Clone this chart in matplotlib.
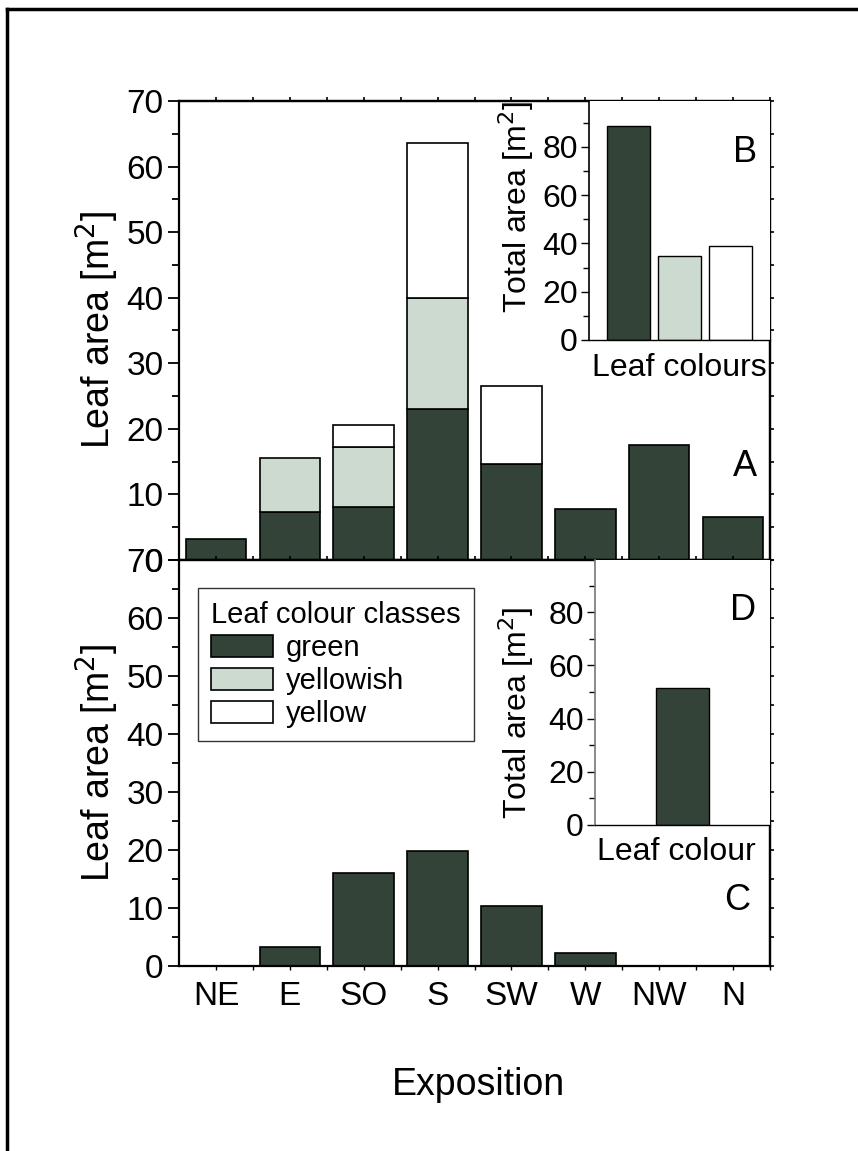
import matplotlib
matplotlib.use("Agg")
import matplotlib.pyplot as plt
from matplotlib.patches import Patch
from matplotlib.lines import Line2D
from matplotlib.ticker import MultipleLocator, FixedLocator

plt.rcParams['font.family'] = ['Liberation Sans', 'DejaVu Sans']

# Leaf area per exposition (m^2), stacked by colour class
expositions = ["NE", "E", "SO", "S", "SW", "W", "NW", "N"]
green_a = [3.2, 7.3, 8.1, 23.0, 14.6, 7.8, 17.5, 6.6]
yellowish_a = [0.0, 8.3, 9.1, 17.0, 0.0, 0.0, 0.0, 0.0]
yellow_a = [0.0, 0.0, 3.4, 23.6, 11.9, 0.0, 0.0, 0.0]

# Second crown: green leaves only
green_c = [0.0, 3.3, 16.0, 19.8, 10.3, 2.2, 0.0, 0.0]

# Totals per colour class
classes_b = ["green", "yellowish", "yellow"]
totals_b = [88.5, 34.6, 39.1]
totals_d = [51.6]

class_labels = ["green", "yellowish", "yellow"]
GREEN = "#334338"
YELLOWISH = "#ccdacf"
YELLOW = "#ffffff"
colors = [GREEN, YELLOWISH, YELLOW]

W, H = 858, 1151
fig = plt.figure(figsize=(W / 100, H / 100), dpi=100)


def frac(x0, y0, x1, y1):
    return [x0 / W, 1 - y1 / H, (x1 - x0) / W, (y1 - y0) / H]


def ftext(px, py, s, **kw):
    return fig.text(px / W, 1 - py / H, s, ha="center", va="center", **kw)


TICK_FS = 24
INSET_TICK_FS = 23
LABEL_FS = 27
INSET_FS = 23
LETTER_FS = 26
LEGEND_FS = 21
LW_SPINE = 1.6

axA = fig.add_axes(frac(179, 101, 770, 560))
axC = fig.add_axes(frac(179, 560, 770, 966))
axB = fig.add_axes(frac(589, 101, 770, 340))
axD = fig.add_axes(frac(595, 560, 770, 825))

x = list(range(len(expositions)))
half = [i + 0.5 for i in x]
bw = 0.82

# Panel A: stacked bars
bottom2 = [g + yw for g, yw in zip(green_a, yellowish_a)]
axA.bar(x, green_a, width=bw, color=GREEN, edgecolor="black", linewidth=1.2, zorder=2)
for i in x:
    if yellowish_a[i] > 0:
        axA.bar(i, yellowish_a[i], bottom=green_a[i], width=bw, color=YELLOWISH,
                edgecolor="black", linewidth=1.2, zorder=2)
    if yellow_a[i] > 0:
        axA.bar(i, yellow_a[i], bottom=bottom2[i], width=bw, color=YELLOW,
                edgecolor="black", linewidth=1.2, zorder=2)

# Panel C
axC.bar(x, green_c, width=bw, color=GREEN, edgecolor="black", linewidth=1.2, zorder=2)

for ax in (axA, axC):
    ax.set_xlim(-0.5, 7.5)
    ax.set_ylim(0, 70)
    ax.yaxis.set_major_locator(MultipleLocator(10))
    ax.yaxis.set_minor_locator(MultipleLocator(5))
    ax.xaxis.set_major_locator(FixedLocator(x))
    ax.xaxis.set_minor_locator(FixedLocator(half))
    ax.tick_params(axis="y", which="major", direction="out", length=8, width=1.3,
                   labelsize=TICK_FS, pad=3)
    ax.tick_params(axis="y", which="minor", direction="out", length=5, width=1.3)
    ax.tick_params(axis="x", which="both", direction="out", length=3, width=1.0)
    for s in ax.spines.values():
        s.set_linewidth(LW_SPINE)
    # small mirrored ticks on the right and top edges
    sy = ax.secondary_yaxis("right")
    sy.yaxis.set_major_locator(MultipleLocator(10))
    sy.yaxis.set_minor_locator(MultipleLocator(5))
    sy.tick_params(axis="y", which="both", direction="out", length=3, width=1.2,
                   labelright=False)
    sy.spines["right"].set_linewidth(LW_SPINE)
    sx = ax.secondary_xaxis("top")
    sx.xaxis.set_major_locator(FixedLocator(x))
    sx.xaxis.set_minor_locator(FixedLocator(half))
    sx.tick_params(axis="x", which="both", direction="out", length=3, width=1.2,
                   labeltop=False)
    sx.spines["top"].set_linewidth(LW_SPINE)

axA.tick_params(axis="x", labelbottom=False)
axC.set_xticklabels(expositions, fontsize=TICK_FS)
axC.tick_params(axis="x", which="major", pad=8)

ftext(97, 330, "Leaf area [m$^2$]", fontsize=LABEL_FS, rotation=90)
ftext(97, 763, "Leaf area [m$^2$]", fontsize=LABEL_FS, rotation=90)
ftext(478, 1085, "Exposition", fontsize=LABEL_FS)

# Legend in panel C
handles = [Patch(facecolor=c, edgecolor="black", linewidth=1.2) for c in colors]
leg = axC.legend(handles, class_labels, title="Leaf colour classes", loc="upper left",
                 bbox_to_anchor=(19 / 591, 1 - 28 / 406), fontsize=LEGEND_FS,
                 title_fontsize=LEGEND_FS, frameon=True, fancybox=False,
                 edgecolor="black", handlelength=2.12, handleheight=0.75,
                 handletextpad=0.45, labelspacing=0.17, borderpad=0.45,
                 borderaxespad=0)
leg.get_frame().set_linewidth(1.0)
leg._legend_box.align = "left"

# Inset B: totals per colour class
xb = list(range(len(classes_b)))
axB.bar(xb, totals_b, width=0.84, color=colors, edgecolor="black", linewidth=1.0, zorder=2)
axB.set_xlim(-0.78, 2.78)
axB.set_ylim(0, 99)

# Inset D
axD.bar([0], totals_d, width=0.30, color=GREEN, edgecolor="black", linewidth=1.0, zorder=2)
axD.set_xlim(-0.5, 0.5)
axD.set_ylim(0, 99.6)

for ax in (axB, axD):
    ax.set_zorder(3)
    ax.yaxis.set_major_locator(MultipleLocator(20))
    ax.yaxis.set_minor_locator(MultipleLocator(10))
    ax.tick_params(axis="y", which="major", direction="out", length=6, width=1.0,
                   labelsize=INSET_TICK_FS, pad=2)
    ax.tick_params(axis="y", which="minor", direction="out", length=4, width=1.0)
    ax.set_xticks([])
    ax.spines["top"].set_visible(False)
    ax.spines["right"].set_visible(False)
    ax.spines["bottom"].set_linewidth(1.0)
    ax.spines["left"].set_linewidth(1.2)
axD.spines["left"].set_color("#777777")

ftext(516, 207, "Total area [m$^2$]", fontsize=INSET_FS, rotation=90)
ftext(516, 713, "Total area [m$^2$]", fontsize=INSET_FS, rotation=90)
ftext(679, 368, "Leaf colours", fontsize=INSET_FS)
ftext(676, 852, "Leaf colour", fontsize=INSET_FS)

# Panel letters
for letter, px, py in (("A", 745, 467), ("B", 745, 152), ("C", 737, 900), ("D", 743, 610)):
    ftext(px, py, letter, fontsize=LETTER_FS)

# Outer frame, open to the right and bottom
fig.add_artist(Line2D([7 / W, 7 / W], [-0.01, 1 - 9 / H], transform=fig.transFigure,
                      color="black", linewidth=2.5))
fig.add_artist(Line2D([7 / W, 1.01], [1 - 9 / H, 1 - 9 / H], transform=fig.transFigure,
                      color="black", linewidth=2.5))

fig.savefig("out.png", dpi=100)
